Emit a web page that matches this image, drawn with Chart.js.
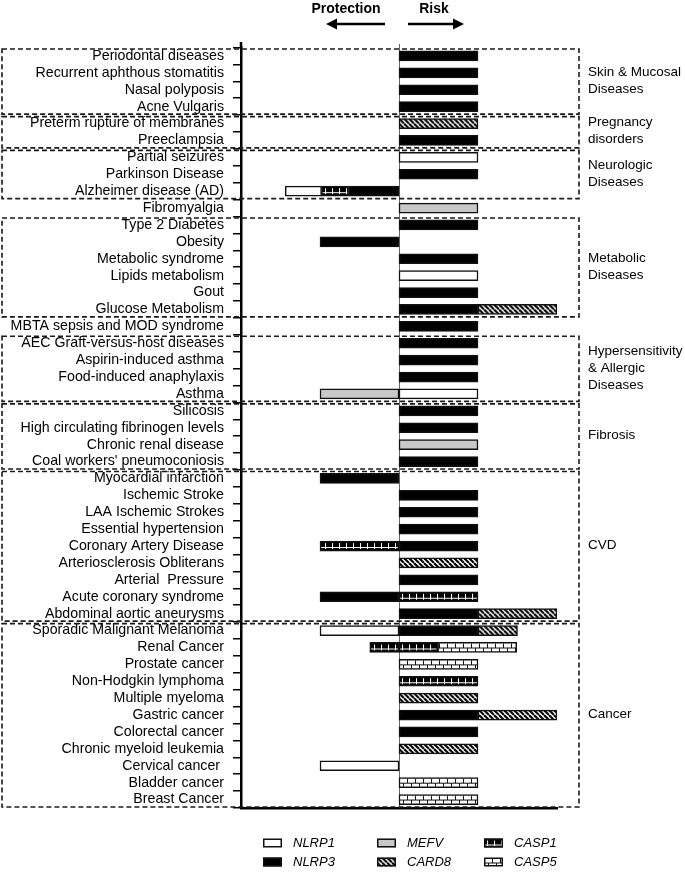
<!DOCTYPE html>
<html>
<head>
<meta charset="utf-8">
<script src="https://cdn.jsdelivr.net/npm/chart.js@4/dist/chart.umd.min.js"></script>
<style>
  html, body { margin: 0; padding: 0; background: #fff; }
  canvas { display: block; }
</style>
</head>
<body>
<canvas id="chart" width="685" height="872"></canvas>
<script>
// diseases, top -> bottom
const diseases = [
  'Periodontal diseases', 'Recurrent aphthous stomatitis', 'Nasal polyposis', 'Acne Vulgaris',
  'Preterm rupture of membranes', 'Preeclampsia',
  'Partial seizures', 'Parkinson Disease', 'Alzheimer disease (AD)',
  'Fibromyalgia',
  'Type 2 Diabetes', 'Obesity', 'Metabolic syndrome', 'Lipids metabolism', 'Gout', 'Glucose Metabolism',
  'MBTA sepsis and MOD syndrome',
  'AEC Graft-versus-host diseases', 'Aspirin-induced asthma', 'Food-induced anaphylaxis', 'Asthma',
  'Silicosis', 'High circulating fibrinogen levels', 'Chronic renal disease', "Coal workers' pneumoconiosis",
  'Myocardial infarction', 'Ischemic Stroke', 'LAA Ischemic Strokes', 'Essential hypertension',
  'Coronary Artery Disease', 'Arteriosclerosis Obliterans', 'Arterial  Pressure', 'Acute coronary syndrome',
  'Abdominal aortic aneurysms',
  'Sporadic Malignant Melanoma', 'Renal Cancer', 'Prostate cancer', 'Non-Hodgkin lymphoma', 'Multiple myeloma',
  'Gastric cancer', 'Colorectal cancer', 'Chronic myeloid leukemia', 'Cervical cancer ', 'Bladder cancer',
  'Breast Cancer'
];

// negative = protection, positive = risk
const _ = null;
const nlrp3 = [1, 1, 1, 1, _, 1, _, 1, -0.64, _, 1, -1, 1, _, 1, 1, 1, 1, 1, 1, _, 1, 1, _, 1,
  -1, 1, 1, 1, 1, _, 1, -1, 1, 1, _, _, _, _, 1, 1, _, _, _, _];
const casp1 = [_, _, _, _, _, _, _, _, -0.34, _, _, _, _, _, _, _, _, _, _, _, _, _, _, _, _,
  _, _, _, _, -1, _, _, 1, _, _, 0.49, _, 1, _, _, _, _, _, _, _];
const casp1Renal = [_, _, _, _, _, _, _, _, _, _, _, _, _, _, _, _, _, _, _, _, _, _, _, _, _,
  _, _, _, _, _, _, _, _, _, _, -0.37, _, _, _, _, _, _, _, _, _];
const nlrp1 = [_, _, _, _, _, _, 1, _, -0.46, _, _, _, _, 1, _, _, _, _, _, _, 1, _, _, _, _,
  _, _, _, _, _, _, _, _, _, -1, _, _, _, _, _, _, _, -1, _, _];
const mefv = [_, _, _, _, _, _, _, _, _, 1, _, _, _, _, _, _, _, _, _, _, -1, _, _, 1, _,
  _, _, _, _, _, _, _, _, _, _, _, _, _, _, _, _, _, _, _, _];
const card8 = [_, _, _, _, 1, _, _, _, _, _, _, _, _, _, _, 1, _, _, _, _, _, _, _, _, _,
  _, _, _, _, _, 1, _, _, 1, 0.5, _, _, _, 1, 1, _, 1, _, _, _];
const casp5 = [_, _, _, _, _, _, _, _, _, _, _, _, _, _, _, _, _, _, _, _, _, _, _, _, _,
  _, _, _, _, _, _, _, _, _, _, 1, 1, _, _, _, _, _, _, 1, 1];

// disease groups: first index, last index, label lines
const groupStart = [0, 4, 6, 10, 17, 21, 25, 34];
const groupEnd = [3, 5, 8, 15, 20, 24, 33, 44];
const groupLabels = [
  ['Skin & Mucosal', 'Diseases'], ['Pregnancy', 'disorders'], ['Neurologic', 'Diseases'],
  ['Metabolic', 'Diseases'], ['Hypersensitivity', '& Allergic', 'Diseases'], ['Fibrosis'], ['CVD'], ['Cancer']
];

const FONT = "'Liberation Sans', Arial, sans-serif";

// pattern tiles
function makeTile(kind) {
  const c = document.createElement('canvas');
  const g = c.getContext('2d');
  if (kind === 'card8') {
    c.width = 5; c.height = 5;
    g.fillStyle = '#fff'; g.fillRect(0, 0, 5, 5);
    g.strokeStyle = '#000'; g.lineWidth = 2.1;
    for (const o of [-5, 0, 5]) { g.beginPath(); g.moveTo(o, 0); g.lineTo(o + 5, 5); g.stroke(); }
  } else if (kind === 'casp1') {
    c.width = 7; c.height = 10;
    g.fillStyle = '#000'; g.fillRect(0, 0, 7, 10);
    g.fillStyle = '#fff';
    g.fillRect(0, 6, 7, 1);
    g.fillRect(3, 2, 1, 6);
  } else if (kind === 'casp5') {
    c.width = 8; c.height = 10;
    g.fillStyle = '#fff'; g.fillRect(0, 0, 8, 10);
    g.fillStyle = '#111';
    g.fillRect(0, 5, 8, 1);
    g.fillRect(0, 1, 1, 4);
    g.fillRect(4, 6, 1, 3);
  }
  return c;
}
const tiles = { card8: makeTile('card8'), casp1: makeTile('casp1'), casp5: makeTile('casp5') };

function pattern(ctx, kind, x0, y0) {
  const p = ctx.createPattern(tiles[kind], 'repeat');
  p.setTransform(new DOMMatrix().translate(x0, y0));
  return p;
}

function barFill(kind) {
  return (c) => {
    const ch = c.chart;
    if (!ch.scales || !ch.scales.y || c.dataIndex === undefined) return '#000';
    const y = ch.scales.y.getPixelForValue(c.dataIndex) - 5;
    const x = ch.scales.x.getPixelForValue(0);
    return pattern(ch.ctx, kind, x, y);
  };
}

const genes = [
  { label: 'NLRP3', data: nlrp3, fill: '#000' },
  { label: 'CASP1', data: casp1, fill: barFill('casp1') },
  { label: 'NLRP1', data: nlrp1, fill: '#fff' },
  { label: 'MEFV', data: mefv, fill: '#c8c8c8' },
  { label: 'CARD8', data: card8, fill: barFill('card8') },
  { label: 'CASP5', data: casp5, fill: barFill('casp5') },
  { label: 'CASP1 ', data: casp1Renal, fill: barFill('casp1') }
];

const legendItems = [
  { label: 'NLRP1', fill: '#fff', x: 263, y: 843 },
  { label: 'NLRP3', fill: '#000', x: 263, y: 862 },
  { label: 'MEFV', fill: '#c8c8c8', x: 377, y: 843 },
  { label: 'CARD8', fill: 'card8', x: 377, y: 862 },
  { label: 'CASP1', fill: 'casp1', x: 484, y: 843 },
  { label: 'CASP5', fill: 'casp5', x: 484, y: 862 }
];

function arrow(ctx, x1, x2, y) {
  const dir = Math.sign(x2 - x1);
  ctx.beginPath();
  ctx.moveTo(x1, y); ctx.lineTo(x2 - dir * 8, y);
  ctx.lineWidth = 2.5; ctx.strokeStyle = '#000'; ctx.stroke();
  ctx.beginPath();
  ctx.moveTo(x2, y); ctx.lineTo(x2 - dir * 11, y - 5.5); ctx.lineTo(x2 - dir * 11, y + 5.5); ctx.closePath();
  ctx.fillStyle = '#000'; ctx.fill();
}

const decor = {
  id: 'decor',
  beforeDatasetsDraw(chart) {
    const ctx = chart.ctx, xs = chart.scales.x, a = chart.chartArea;
    const x0 = Math.round(xs.getPixelForValue(0)) + 0.5;
    ctx.save();
    ctx.strokeStyle = '#666'; ctx.lineWidth = 1;
    ctx.beginPath(); ctx.moveTo(x0, 44); ctx.lineTo(x0, a.bottom); ctx.stroke();
    ctx.restore();
  },
  afterDraw(chart) {
    const ctx = chart.ctx, ys = chart.scales.y, a = chart.chartArea;
    const half = (ys.getPixelForValue(1) - ys.getPixelForValue(0)) / 2;
    ctx.save();
    // axis stub above plot
    ctx.strokeStyle = '#000'; ctx.lineWidth = 2.5;
    ctx.beginPath(); ctx.moveTo(a.left, 42); ctx.lineTo(a.left, a.top); ctx.stroke();

    // dashed group boxes
    ctx.setLineDash([5, 3]);
    ctx.lineWidth = 1.6; ctx.strokeStyle = '#1a1a1a';
    ctx.font = '13.5px ' + FONT; ctx.fillStyle = '#000';
    ctx.textBaseline = 'middle'; ctx.textAlign = 'left';
    groupStart.forEach((s, i) => {
      const top = ys.getPixelForValue(s) - half + 1.5;
      const bot = ys.getPixelForValue(groupEnd[i]) + half - 1;
      ctx.strokeRect(2, top, 577, bot - top);
      const lines = groupLabels[i];
      const mid = (top + bot) / 2 - 1;
      lines.forEach((t, k) => ctx.fillText(t, 588, mid + (k - (lines.length - 1) / 2) * 17));
    });
    ctx.setLineDash([]);

    // Protection / Risk header
    ctx.font = 'bold 14px ' + FONT; ctx.textAlign = 'center';
    ctx.fillText('Protection', 346, 9);
    ctx.fillText('Risk', 434, 9);
    arrow(ctx, 385, 326, 24);
    arrow(ctx, 408, 464, 24);

    // legend
    ctx.font = 'italic 13px ' + FONT; ctx.textAlign = 'left';
    legendItems.forEach(it => {
      const bx = it.x, by = it.y - 4.5;
      ctx.fillStyle = tiles[it.fill] ? pattern(ctx, it.fill, bx, by) : it.fill;
      ctx.fillRect(bx, by, 19, 9);
      ctx.lineWidth = 1.5; ctx.strokeStyle = '#111';
      ctx.strokeRect(bx + 0.75, by + 0.75, 17.5, 7.5);
      ctx.fillStyle = '#000';
      ctx.fillText(it.label, bx + 30, it.y);
    });
    ctx.restore();
  }
};

new Chart(document.getElementById('chart'), {
  type: 'bar',
  data: {
    labels: diseases,
    datasets: genes.map(g => ({
      label: g.label,
      data: g.data,
      backgroundColor: g.fill,
      borderColor: '#111',
      borderWidth: 1.5,
      borderSkipped: false,
      barThickness: 10
    }))
  },
  options: {
    indexAxis: 'y',
    responsive: false,
    devicePixelRatio: 1,
    animation: false,
    layout: { padding: { top: 47.5, right: 128, bottom: 64, left: 0 } },
    scales: {
      x: {
        stacked: true, min: -2, max: 2,
        ticks: { display: false },
        grid: { display: false, drawTicks: false },
        border: { display: true, color: '#000', width: 2.5 },
        afterFit: s => { s.height = 0; }
      },
      y: {
        stacked: true,
        ticks: { autoSkip: false, color: '#000', padding: 9, font: { family: FONT, size: 14.2 } },
        grid: { drawOnChartArea: false, drawTicks: true, tickLength: 8, color: '#000', lineWidth: 1.5 },
        border: { display: true, color: '#000', width: 2.5 },
        afterFit: s => { s.width = 241; }
      }
    },
    plugins: { legend: { display: false }, tooltip: { enabled: false } }
  },
  plugins: [decor]
});
</script>
</body>
</html>
